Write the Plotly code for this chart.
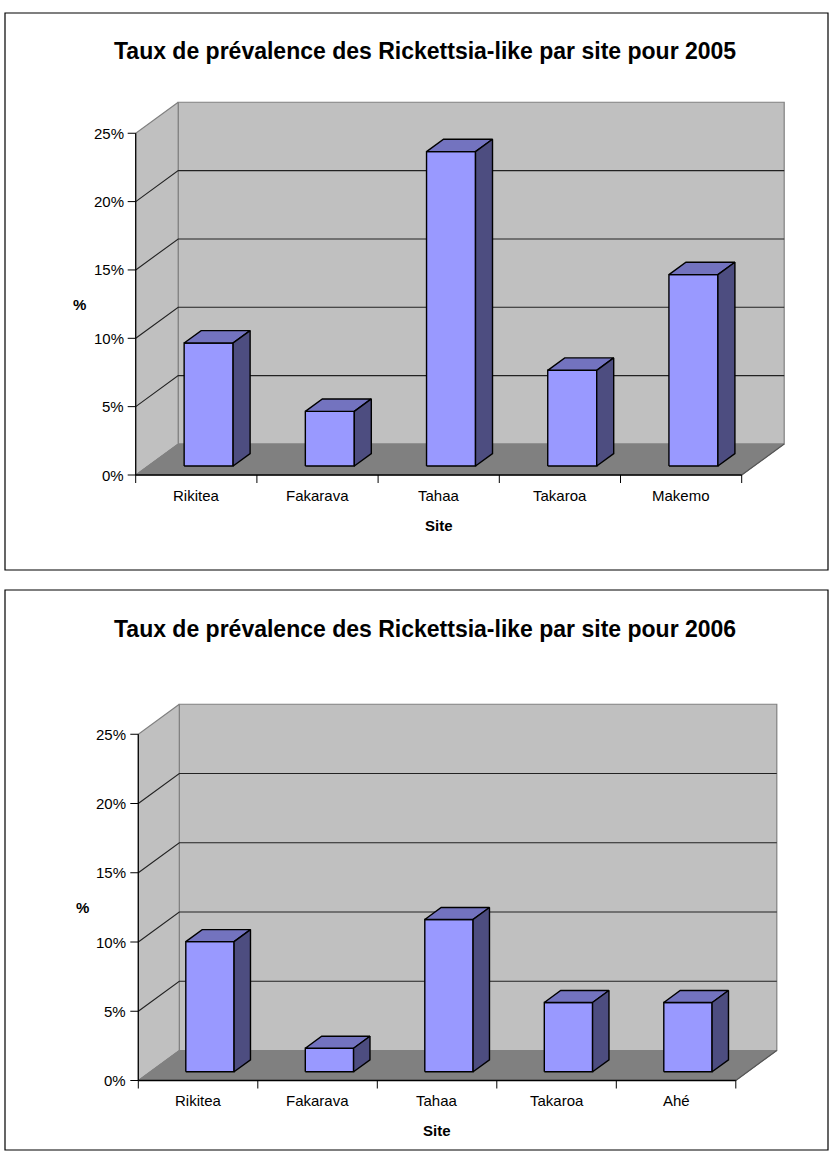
import plotly.graph_objects as go

# ---------------- data ----------------
sites_2005 = ["Rikitea", "Fakarava", "Tahaa", "Takaroa", "Makemo"]
values_2005 = [9, 4, 23, 7, 14]
sites_2006 = ["Rikitea", "Fakarava", "Tahaa", "Takaroa", "Ahé"]
values_2006 = [9.4, 1.7, 11, 5, 5]
y_ticks = [0, 5, 10, 15, 20, 25]
y_tick_labels = ["0%", "5%", "10%", "15%", "20%", "25%"]
titles = ["Taux de prévalence des Rickettsia-like par site pour 2005",
          "Taux de prévalence des Rickettsia-like par site pour 2006"]
x_title = "Site"
y_title = "%"

# ---------------- styles / geometry ----------------
W, H = 833, 1171
FONT = "Arial, Liberation Sans, sans-serif"
FRONT = "#9999FF"
TOP = "#7373BF"
SIDE = "#4D4D80"
WALL = "#C0C0C0"
FLOOR = "#808080"
WALL_EDGE = "#808080"

charts = [
    dict(sites=sites_2005, values=values_2005, title=titles[0],
         x0=135.7, cw=121.2, y0=475.0, pp=13.67, dx=42.5, dy=31.0,
         dom_top=0, dom_bot=585, frame=(5, 13, 828, 570), title_y=51,
         xa="x", ya="y", xk="xaxis", yk="yaxis"),
    dict(sites=sites_2006, values=values_2006, title=titles[1],
         x0=138.3, cw=119.5, y0=1080.5, pp=13.85, dx=41.0, dy=30.0,
         dom_top=586, dom_bot=1171, frame=(5, 590, 828, 1150), title_y=629,
         xa="x2", ya="y2", xk="xaxis2", yk="yaxis2"),
]

fig = go.Figure()
annotations = []
shapes = []
layout_axes = {}

Z0, Z1 = 0.29, 0.69   # bar depth span (fraction of full depth)
HW = 0.202            # bar half width in category units

for c in charts:
    xa, ya = c["xa"], c["ya"]
    dxd = c["dx"] / c["cw"]
    dyd = c["dy"] / c["pp"]
    n = len(c["sites"])
    vmax = y_ticks[-1]

    def P(x, v, z):
        return x + z * dxd, v + z * dyd

    def poly(pts, fill, lc, lw=1.0):
        xs = [p[0] for p in pts] + [pts[0][0]]
        ys = [p[1] for p in pts] + [pts[0][1]]
        fig.add_trace(go.Scatter(x=xs, y=ys, mode="lines", fill="toself",
                                 fillcolor=fill, line=dict(color=lc, width=lw),
                                 xaxis=xa, yaxis=ya, hoverinfo="skip",
                                 showlegend=False))

    def line(pts, lc, lw=1.0):
        fig.add_trace(go.Scatter(x=[p[0] for p in pts], y=[p[1] for p in pts],
                                 mode="lines", line=dict(color=lc, width=lw),
                                 xaxis=xa, yaxis=ya, hoverinfo="skip",
                                 showlegend=False))

    # axes ranges (pixel-matched)
    top_px, bot_px = c["dom_top"], c["dom_bot"]
    layout_axes[c["xk"]] = dict(
        domain=[0, 1], range=[-c["x0"] / c["cw"], (W - c["x0"]) / c["cw"]],
        visible=False, fixedrange=True, anchor=ya)
    layout_axes[c["yk"]] = dict(
        domain=[1 - bot_px / H, 1 - top_px / H],
        range=[(c["y0"] - bot_px) / c["pp"], (c["y0"] - top_px) / c["pp"]],
        visible=False, fixedrange=True, anchor=xa)

    # walls and floor
    poly([P(0, 0, 1), P(n, 0, 1), P(n, vmax, 1), P(0, vmax, 1)], WALL, WALL_EDGE, 1.2)
    poly([P(0, 0, 0), P(0, 0, 1), P(0, vmax, 1), P(0, vmax, 0)], WALL, WALL_EDGE, 1.2)
    poly([P(0, 0, 0), P(n, 0, 0), P(n, 0, 1), P(0, 0, 1)], FLOOR, FLOOR, 1.0)
    line([P(n, 0, 0), P(n, 0, 1)], "#555555", 1.2)

    # gridlines
    for v in y_ticks[1:-1]:
        line([P(0, v, 0), P(0, v, 1), P(n, v, 1)], "#222222", 1.1)

    # bars
    for i, val in enumerate(c["values"]):
        xl, xr = i + 0.5 - HW, i + 0.5 + HW
        poly([P(xl, 0, Z0), P(xr, 0, Z0), P(xr, val, Z0), P(xl, val, Z0)], FRONT, "#000000", 1.4)
        poly([P(xl, val, Z0), P(xr, val, Z0), P(xr, val, Z1), P(xl, val, Z1)], TOP, "#000000", 1.4)
        poly([P(xr, 0, Z0), P(xr, 0, Z1), P(xr, val, Z1), P(xr, val, Z0)], SIDE, "#000000", 1.4)

    # axis lines and ticks
    tl_x = 8 / c["cw"]
    tl_y = 8 / c["pp"]
    line([P(0, 0, 0), P(0, vmax, 0)], "#000000", 1.2)
    line([P(0, 0, 0), P(n, 0, 0)], "#000000", 1.4)
    for v in y_ticks:
        line([(-tl_x, v), (0, v)], "#000000", 1.0)
    for k in range(n + 1):
        line([(k, 0), (k, -tl_y)], "#000000", 1.0)

    # tick labels
    for v, t in zip(y_ticks, y_tick_labels):
        annotations.append(dict(x=0, y=v, xref=xa, yref=ya, text=t, showarrow=False,
                                xanchor="right", yanchor="middle", xshift=-10,
                                font=dict(family=FONT, size=15, color="#000000")))
    for i, s in enumerate(c["sites"]):
        annotations.append(dict(x=i + 0.5, y=0, xref=xa, yref=ya, text=s, showarrow=False,
                                xanchor="center", yanchor="middle", yshift=-20,
                                font=dict(family=FONT, size=15, color="#000000")))
    annotations.append(dict(x=n / 2, y=0, xref=xa, yref=ya, text="<b>%s</b>" % x_title,
                            showarrow=False, xanchor="center", yanchor="middle", yshift=-50,
                            font=dict(family=FONT, size=15, color="#000000")))
    annotations.append(dict(x=0, y=vmax / 2, xref=xa, yref=ya, text="<b>%s</b>" % y_title,
                            showarrow=False, xanchor="center", yanchor="middle", xshift=-56,
                            font=dict(family=FONT, size=15, color="#000000")))
    # title
    annotations.append(dict(x=425.4 / W, y=1 - c["title_y"] / H, xref="paper", yref="paper",
                            text="<b>%s</b>" % c["title"], showarrow=False,
                            xanchor="center", yanchor="middle",
                            font=dict(family=FONT, size=23, color="#000000")))
    # frame
    fx0, fy0, fx1, fy1 = c["frame"]
    shapes.append(dict(type="rect", xref="paper", yref="paper",
                       x0=fx0 / W, x1=fx1 / W, y0=1 - fy1 / H, y1=1 - fy0 / H,
                       line=dict(color="#000000", width=1.2), fillcolor="rgba(0,0,0,0)"))

fig.update_layout(
    width=W, height=H, margin=dict(l=0, r=0, t=0, b=0, pad=0),
    paper_bgcolor="white", plot_bgcolor="rgba(0,0,0,0)",
    showlegend=False, annotations=annotations, shapes=shapes,
    **layout_axes,
)

fig.write_html("out.html")
